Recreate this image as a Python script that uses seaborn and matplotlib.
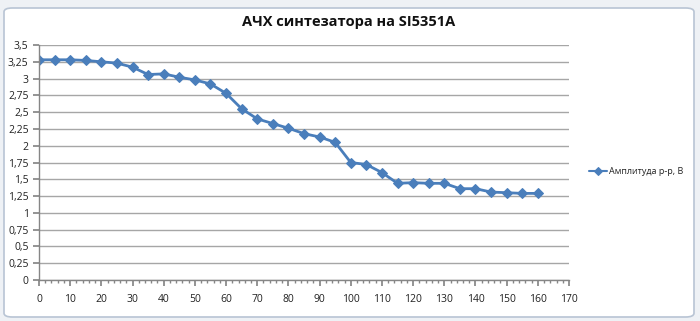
import matplotlib
matplotlib.use("Agg")
import matplotlib.pyplot as plt
import seaborn as sns
import pandas as pd
from matplotlib.patches import FancyBboxPatch
from matplotlib.ticker import MultipleLocator, FuncFormatter

freq = [0, 5, 10, 15, 20, 25, 30, 35, 40, 45, 50, 55, 60, 65, 70, 75, 80,
        85, 90, 95, 100, 105, 110, 115, 120, 125, 130, 135, 140, 145, 150, 155, 160]
amp = [3.28, 3.28, 3.28, 3.27, 3.25, 3.23, 3.17, 3.06, 3.07, 3.02, 2.98, 2.92, 2.78,
       2.55, 2.40, 2.33, 2.26, 2.18, 2.13, 2.05, 1.75, 1.72, 1.60, 1.44, 1.45, 1.44,
       1.44, 1.36, 1.36, 1.31, 1.30, 1.29, 1.29]
series_name = "Амплитуда р-р, В"
title = "АЧХ синтезатора на SI5351A"

df = pd.DataFrame({"x": freq, "y": amp, "s": series_name})

sns.set_theme(style="white")
plt.rcParams['font.family'] = ['Open Sans', 'DejaVu Sans']

W, H = 700, 321
fig = plt.figure(figsize=(W / 100, H / 100), dpi=100)
fig.patch.set_facecolor("#eef1f5")
frame = FancyBboxPatch((4 / W, 4 / H), (W - 10) / W, (H - 12) / H,
                       boxstyle="round,pad=0,rounding_size=0.012",
                       transform=fig.transFigure, facecolor="white",
                       edgecolor="#b8c4d4", linewidth=1.2, zorder=-10)
fig.patches.append(frame)

ax = fig.add_axes([39 / W, 1 - 280 / H, (569 - 39) / W, (280 - 45) / H])
ax.set_zorder(2)
ax.set_facecolor("none")
color = "#4a7ebb"
sns.lineplot(data=df, x="x", y="y", hue="s", palette=[color], marker="D",
             markersize=5, markeredgecolor=color, linewidth=2.0, ax=ax)

ax.set_xlim(0, 170)
ax.set_ylim(0, 3.5)
ax.xaxis.set_major_locator(MultipleLocator(10))
ax.xaxis.set_minor_locator(MultipleLocator(2))
ax.yaxis.set_major_locator(MultipleLocator(0.25))
fmt = FuncFormatter(lambda v, p: (f"{v:g}").replace(".", ","))
ax.xaxis.set_major_formatter(fmt)
ax.yaxis.set_major_formatter(fmt)
ax.yaxis.grid(True, color="#a6a6a6", linewidth=1)
ax.set_axisbelow(True)
for side in ["top", "right"]:
    ax.spines[side].set_visible(False)
for side in ["left", "bottom"]:
    ax.spines[side].set_color("#868686")
    ax.spines[side].set_linewidth(1)
ax.tick_params(axis="both", which="major", labelsize=7.5, colors="#222222",
               length=4, direction="out", color="#868686", left=True, bottom=True)
ax.tick_params(axis="x", which="minor", length=2, direction="out",
               color="#868686", bottom=True)
ax.tick_params(axis="x", pad=6)
ax.set_xlabel("")
ax.set_ylabel("")

fig.text(349 / W, 1 - 22 / H, title, ha="center", va="center",
         fontsize=10.5, fontweight="bold", color="#111111")

leg = ax.legend(loc="center left", bbox_to_anchor=(589 / W, 1 - 172 / H),
                bbox_transform=fig.transFigure, frameon=False, fontsize=6.5,
                handlelength=2.0, handletextpad=0.2, borderaxespad=0,
                borderpad=0, markerscale=0.8)
for line in leg.get_lines():
    line.set_linewidth(1.5)
for t in leg.get_texts():
    t.set_color("#222222")

fig.savefig("out.png", dpi=100)
